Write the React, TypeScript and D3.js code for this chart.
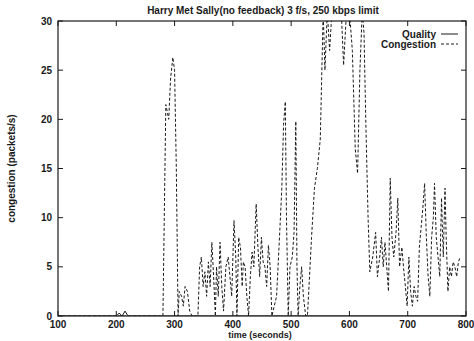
import * as d3 from 'd3';
import { useEffect, useRef } from 'react';

const timeTicks = [100, 200, 300, 400, 500, 600, 700, 800];
const rateTicks = [0, 5, 10, 15, 20, 25, 30];

// congestion (packets/s) sampled from the plot
const congestionTime = [
  100, 280, 285, 290, 293, 297, 300, 303, 306, 308, 312, 315, 318, 322, 326, 330, 340,
  343, 346, 349, 352, 355, 358, 361, 364, 367, 370, 372, 375, 378, 381, 384, 388, 392,
  395, 398, 402, 405, 407, 410, 413, 416, 418, 421, 424, 427, 430, 433, 436, 440, 443,
  446, 449, 452, 455, 458, 461, 464, 467, 475, 480, 484, 487, 490, 492, 495, 498, 502,
  505, 508, 510, 512, 515, 518, 521, 525, 528, 535, 540, 545, 550, 555, 558, 562, 566,
  570, 574, 580, 586, 590, 595, 600, 605, 610, 614, 618, 622, 625, 628, 632, 635, 640,
  645, 648, 652, 655, 658, 661, 664, 667, 670, 673, 676, 680, 683, 686, 690, 693, 696,
  699, 702, 705, 708, 711, 714, 717, 720, 723, 726, 729, 732, 735, 738, 741, 744, 746,
  749, 752, 755, 758, 761, 764, 766, 769, 772, 775, 778, 781, 784, 787, 790,
];
const congestion = [
  0, 0, 21.5, 20, 24, 26.3, 25, 15, 0, 2.5, 2, 1, 3, 2.5, 0.5, 0, 0,
  5, 6, 3, 4.5, 2, 5.5, 3, 7.5, 4, 0, 5, 2, 7.5, 3, 0.5, 5, 6,
  4, 2, 9.7, 6, 0, 8, 7, 3, 5.5, 5, 2, 0, 4, 6.5, 5, 11.4, 7,
  4, 8, 5.5, 5, 3, 7.2, 5, 0, 2, 8, 13, 19.5, 21.8, 10, 0, 5, 6,
  8.5, 19.8, 5, 0, 3, 5, 2, 0, 0, 8, 13, 15, 18, 31, 25, 31, 27,
  31, 31, 31, 31, 25.5, 31, 31, 27, 17, 14.5, 25, 31, 28.8, 20, 10, 4.5, 6,
  8.5, 4, 6, 8, 5, 7.5, 5, 2.5, 14, 8, 6, 8.5, 12, 5, 7, 4.8, 3,
  1, 6, 2.5, 1, 3, 2, 1.5, 7, 9, 11, 13.5, 8, 4, 2, 8, 10, 13.5,
  8, 6, 4, 12, 6, 13, 8, 2.5, 5, 4, 5.5, 5, 4, 5.5, 6,
];

// quality sits on the baseline almost everywhere
const qualityTime = [100, 200, 205, 210, 215, 220, 280, 600, 650, 760, 800];
const quality = [0, 0, 0.3, 0, 0.5, 0, 0, 0, 0, 0, 0];

export default function App() {
  const ref = useRef<SVGSVGElement | null>(null);

  useEffect(() => {
    if (!ref.current) return;
    const svg = d3.select(ref.current);
    svg.selectAll('*').remove();

    const width = 474;
    const height = 341;
    const left = 58;
    const right = 466;
    const top = 21;
    const bottom = 316;
    const ink = '#1a1a1a';
    const font = '"Liberation Sans", Arial, sans-serif';

    svg.attr('width', width).attr('height', height);
    svg.append('rect').attr('width', width).attr('height', height).attr('fill', '#fff');

    const x = d3.scaleLinear().domain([100, 800]).range([left, right]);
    const y = d3.scaleLinear().domain([0, 30]).range([bottom, top]);

    const defs = svg.append('defs');
    defs.append('clipPath').attr('id', 'plot')
      .append('rect')
      .attr('x', left).attr('y', top)
      .attr('width', right - left).attr('height', bottom - top);

    // data
    const line = d3.line<[number, number]>()
      .x(d => x(d[0]))
      .y(d => y(d[1]));

    const g = svg.append('g').attr('clip-path', 'url(#plot)');

    g.append('path')
      .datum(qualityTime.map((t, i) => [t, quality[i]] as [number, number]))
      .attr('d', line)
      .attr('fill', 'none')
      .attr('stroke', ink)
      .attr('stroke-width', 1);

    g.append('path')
      .datum(congestionTime.map((t, i) => [t, congestion[i]] as [number, number]))
      .attr('d', line)
      .attr('fill', 'none')
      .attr('stroke', ink)
      .attr('stroke-width', 1)
      .attr('stroke-dasharray', '3,2');

    // frame
    svg.append('rect')
      .attr('x', left).attr('y', top)
      .attr('width', right - left).attr('height', bottom - top)
      .attr('fill', 'none')
      .attr('stroke', ink)
      .attr('stroke-width', 1.2);

    // ticks, drawn inward on all four sides
    const tick = 5;
    timeTicks.forEach(t => {
      svg.append('line')
        .attr('x1', x(t)).attr('x2', x(t))
        .attr('y1', bottom).attr('y2', bottom - tick)
        .attr('stroke', ink);
      svg.append('line')
        .attr('x1', x(t)).attr('x2', x(t))
        .attr('y1', top).attr('y2', top + tick)
        .attr('stroke', ink);
      svg.append('text')
        .attr('x', x(t)).attr('y', bottom + 12)
        .attr('text-anchor', 'middle')
        .style('font', `bold 10px ${font}`)
        .attr('fill', ink)
        .text(t);
    });

    rateTicks.forEach(v => {
      svg.append('line')
        .attr('x1', left).attr('x2', left + tick)
        .attr('y1', y(v)).attr('y2', y(v))
        .attr('stroke', ink);
      svg.append('line')
        .attr('x1', right).attr('x2', right - tick)
        .attr('y1', y(v)).attr('y2', y(v))
        .attr('stroke', ink);
      svg.append('text')
        .attr('x', left - 6).attr('y', y(v))
        .attr('dy', '0.35em')
        .attr('text-anchor', 'end')
        .style('font', `bold 10px ${font}`)
        .attr('fill', ink)
        .text(v);
    });

    // titles
    svg.append('text')
      .attr('x', 263).attr('y', 14)
      .attr('text-anchor', 'middle')
      .style('font', `bold 10px ${font}`)
      .attr('fill', ink)
      .text('Harry Met Sally(no feedback) 3 f/s, 250 kbps limit');

    svg.append('text')
      .attr('x', 260).attr('y', 338)
      .attr('text-anchor', 'middle')
      .style('font', `bold 9px ${font}`)
      .attr('fill', ink)
      .text('time (seconds)');

    svg.append('text')
      .attr('transform', `translate(15,${(top + bottom) / 2}) rotate(-90)`)
      .attr('text-anchor', 'middle')
      .style('font', `bold 10px ${font}`)
      .attr('fill', ink)
      .text('congestion (packets/s)');

    // legend
    const legend = [
      { name: 'Quality', dash: null as string | null },
      { name: 'Congestion', dash: '3,2' },
    ];
    legend.forEach((d, i) => {
      const ly = 34 + i * 10;
      svg.append('text')
        .attr('x', 436).attr('y', ly)
        .attr('dy', '0.35em')
        .attr('text-anchor', 'end')
        .style('font', `bold 10px ${font}`)
        .attr('fill', ink)
        .text(d.name);
      svg.append('line')
        .attr('x1', 441).attr('x2', 458)
        .attr('y1', ly).attr('y2', ly)
        .attr('stroke', ink)
        .attr('stroke-dasharray', d.dash);
    });
  }, []);

  return <svg ref={ref} style={{ position: 'absolute', left: 0, top: 0, display: 'block' }} />;
}
